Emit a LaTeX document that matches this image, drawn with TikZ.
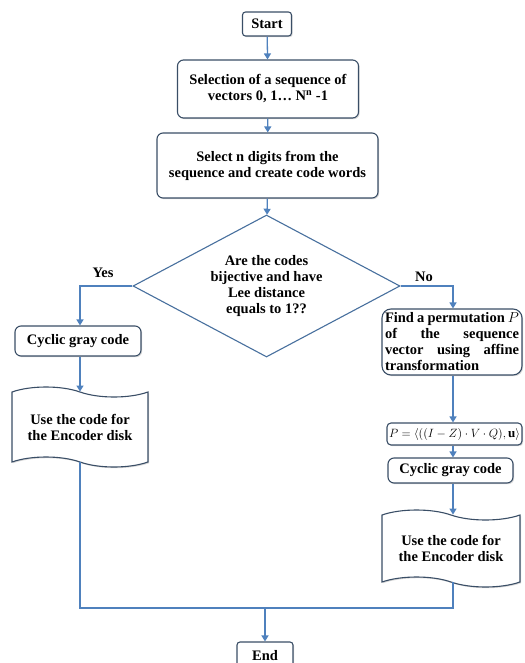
\documentclass[tikz,border=0pt]{standalone}
\usepackage{fontspec}
\setmainfont{Liberation Serif}
\usepackage{tikz}
\usetikzlibrary{arrows.meta,shapes.geometric,shapes.symbols,shadows}

\definecolor{flowblue}{RGB}{79,129,189}
\definecolor{boxline}{RGB}{58,78,102}
\definecolor{diamline}{RGB}{72,112,158}

\begin{document}
\begin{tikzpicture}[x=1pt,y=-1pt,>={Triangle[width=7pt,length=6pt]},
    font=\bfseries\fontsize{14.5}{16}\selectfont,
    box/.style={draw=boxline,line width=1.1pt,fill=white,rounded corners=6pt,inner sep=2pt,align=center,
        drop shadow={opacity=0.3,shadow xshift=1.2pt,shadow yshift=-1.2pt}},
    decision/.style={diamond,draw=diamline,line width=1.1pt,fill=white,aspect=1.88,inner sep=0pt,
        minimum width=267pt,minimum height=142pt,align=center},
    doc/.style={tape,draw=boxline,line width=1.1pt,fill=white,tape bend top=out and in,
        tape bend bottom=out and in,tape bend height=10pt,align=center,
        drop shadow={opacity=0.3,shadow xshift=1.2pt,shadow yshift=-1.2pt}},
    flow/.style={draw=flowblue,line width=1.3pt}]
\useasboundingbox (0,0) rectangle (524,663);

\node[box,rounded corners=3pt,minimum width=49pt,minimum height=24pt] (start) at (267,24) {Start};
\node[box,minimum width=181pt,minimum height=58pt] (sel) at (268,89) {Selection of a sequence of\\vectors 0, 1\ldots\ N\textsuperscript{n} -1};
\node[box,minimum width=221pt,minimum height=65pt] (dig) at (267.5,165.5) {Select n digits from the\\sequence and create code words};
\node[decision] (dec) at (266.5,286) {Are the codes\\bijective and have\\Lee distance\\equals to 1??};

\coordinate (yes) at (80,286);
\coordinate (no) at (453,286);
\coordinate (join) at (265,608);

\node (yeslbl) at (103,273) {Yes};
\node (nolbl) at (424,277) {No};

\node[box,minimum width=126pt,minimum height=30pt] (cgl) at (78,341) {Cyclic gray code};
\node[doc,minimum width=136pt,minimum height=80pt] (docl) at (80,427) {Use the code for\\the Encoder disk};

\node[box,rounded corners=9pt,minimum width=140pt,minimum height=66pt,text width=134pt,align=justify] (perm) at (452,342)
    {Find a permutation $P$\linebreak of the sequence\linebreak vector using affine\linebreak transformation};
\node[box,rounded corners=4pt,minimum width=135pt,minimum height=22pt,font=\fontsize{13}{15}\selectfont] (form) at (454.5,434)
    {$P=\langle((I-Z)\cdot V\cdot Q),\mathbf{u}\rangle$};
\node[box,minimum width=125pt,minimum height=25pt] (cgr) at (450.5,470.5) {Cyclic gray code};
\node[doc,minimum width=138pt,minimum height=77pt] (docr) at (451,548.5) {Use the code for\\the Encoder disk};

\node[box,rounded corners=3pt,minimum width=56pt,minimum height=28pt] (stop) at (265,656) {End};

\draw[flow,->] (start) -- (sel);
\draw[flow,->] (sel) -- (dig);
\draw[flow,->] (dig) -- (dec);
\draw[flow,->] (dec.west) -- (yes) -- (yes |- cgl.north);
\draw[flow,->] (dec.east) -- (no) -- (no |- perm.north);
\draw[flow,->] (yes |- cgl.south) -- (docl.north);
\draw[flow,->] (perm.south -| no) -- (form.north -| no);
\draw[flow,->] (form.south -| no) -- (cgr.north -| no);
\draw[flow,->] (cgr.south -| no) -- (docr.north -| no);
\draw[flow] (docl.south) |- (join) -| (docr.south -| no);
\draw[flow,->] (join) -- (stop);
\end{tikzpicture}
\end{document}
